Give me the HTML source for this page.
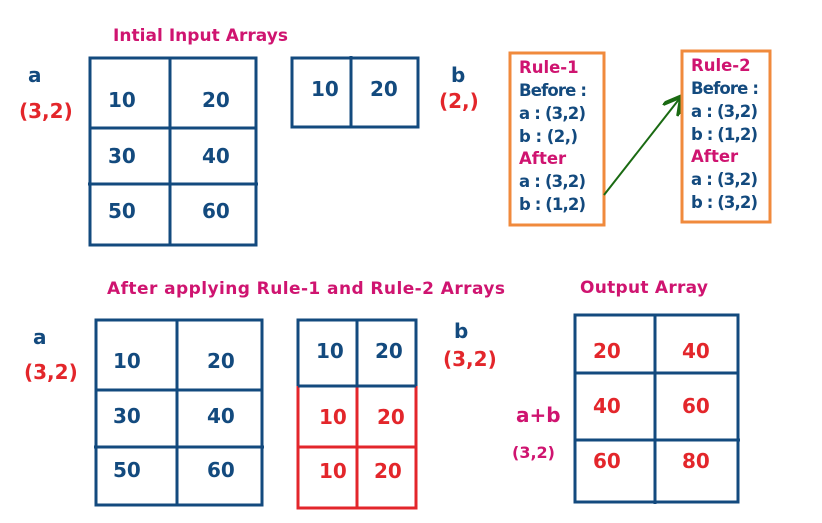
<!DOCTYPE html>
<html><head><meta charset="utf-8"><style>
html,body{margin:0;padding:0;background:#fff;width:822px;height:523px;overflow:hidden}
svg{display:block}
text{font-family:"DejaVu Sans","Liberation Sans",sans-serif;font-weight:bold}
.n{fill:#134a7e;font-size:20px}
.r{fill:#e3262b;font-size:20px}
.p{fill:#cf1470;font-size:17px}
.rl{font-size:16.5px}
</style></head><body>
<svg width="822" height="523" viewBox="0 0 822 523">
<defs><marker id="ah" markerWidth="10" markerHeight="10" refX="8" refY="5" orient="auto"><path d="M0,0 L9,5 L0,10" fill="none" stroke="#1a6a12" stroke-width="2"/></marker></defs>
<g>
<text class="p" x="113" y="41" textLength="175">Intial Input Arrays</text>
<text class="n" x="28" y="82">a</text>
<text class="r" x="19" y="118">(3,2)</text>
<g fill="none" stroke="#134a7e" stroke-width="3">
<rect x="90" y="58" width="166" height="187"/><line x1="170" y1="58" x2="170" y2="245"/><line x1="90" y1="128" x2="256" y2="128"/><line x1="88" y1="184" x2="258" y2="184"/></g>
<text class="n" x="108" y="107">10</text><text class="n" x="202" y="107">20</text>
<text class="n" x="108" y="163">30</text><text class="n" x="202" y="163">40</text>
<text class="n" x="108" y="218">50</text><text class="n" x="202" y="218">60</text>
<g fill="none" stroke="#134a7e" stroke-width="3">
<rect x="292" y="58" width="126" height="69"/><line x1="351" y1="56" x2="351" y2="127"/></g>
<text class="n" x="311" y="96">10</text><text class="n" x="370" y="96">20</text>
<text class="n" x="451" y="82">b</text>
<text class="r" x="439" y="108">(2,)</text>
</g>
<g>
<rect x="510" y="53" width="94" height="172" fill="none" stroke="#f08a3c" stroke-width="3"/>
<text class="rl" x="519" y="73" fill="#cf1470">Rule-1</text>
<text class="rl" x="519" y="96" fill="#134a7e" textLength="68">Before :</text>
<text class="rl" x="519" y="119" fill="#134a7e" textLength="67">a : (3,2)</text>
<text class="rl" x="519" y="142" fill="#134a7e" textLength="59">b : (2,)</text>
<text class="rl" x="519" y="164" fill="#cf1470">After</text>
<text class="rl" x="519" y="187" fill="#134a7e" textLength="67">a : (3,2)</text>
<text class="rl" x="519" y="210" fill="#134a7e" textLength="67">b : (1,2)</text>
</g>
<line x1="604" y1="195" x2="680" y2="98" stroke="#1a6a12" stroke-width="2" marker-end="url(#ah)"/>
<g>
<rect x="682" y="51" width="88" height="171" fill="none" stroke="#f08a3c" stroke-width="3"/>
<text class="rl" x="691" y="71" fill="#cf1470">Rule-2</text>
<text class="rl" x="691" y="94" fill="#134a7e" textLength="68">Before :</text>
<text class="rl" x="691" y="117" fill="#134a7e" textLength="67">a : (3,2)</text>
<text class="rl" x="691" y="140" fill="#134a7e" textLength="67">b : (1,2)</text>
<text class="rl" x="691" y="162" fill="#cf1470">After</text>
<text class="rl" x="691" y="185" fill="#134a7e" textLength="67">a : (3,2)</text>
<text class="rl" x="691" y="208" fill="#134a7e" textLength="67">b : (3,2)</text>
</g>
<g>
<text class="p" x="107" y="294" textLength="398">After applying Rule-1 and Rule-2 Arrays</text>
<text class="n" x="33" y="344">a</text>
<text class="r" x="24" y="379">(3,2)</text>
<g fill="none" stroke="#134a7e" stroke-width="3">
<rect x="96" y="320" width="166" height="185"/><line x1="177" y1="320" x2="177" y2="506"/><line x1="96" y1="390" x2="262" y2="390"/><line x1="94" y1="447" x2="264" y2="447"/></g>
<text class="n" x="113" y="368">10</text><text class="n" x="207" y="368">20</text>
<text class="n" x="113" y="423">30</text><text class="n" x="207" y="423">40</text>
<text class="n" x="113" y="477">50</text><text class="n" x="207" y="477">60</text>
<g fill="none" stroke-width="3">
<rect x="298" y="386" width="118" height="122" stroke="#e3262b"/><line x1="298" y1="447" x2="416" y2="447" stroke="#e3262b"/><line x1="357" y1="386" x2="357" y2="508" stroke="#e3262b"/>
<path d="M298,386 V320 H416 V386 M357,320 V386" stroke="#134a7e"/><line x1="298" y1="386" x2="416" y2="386" stroke="#134a7e"/></g>
<text class="n" x="316" y="358">10</text><text class="n" x="375" y="358">20</text>
<text class="r" x="319" y="424">10</text><text class="r" x="377" y="424">20</text>
<text class="r" x="319" y="478">10</text><text class="r" x="374" y="478">20</text>
<text class="n" x="454" y="338">b</text>
<text class="r" x="443" y="366">(3,2)</text>
</g>
<g>
<text class="p" x="580" y="293" textLength="128">Output Array</text>
<g fill="none" stroke="#134a7e" stroke-width="3">
<rect x="575" y="315" width="163" height="187"/><line x1="655" y1="315" x2="655" y2="504"/><line x1="575" y1="373" x2="738" y2="373"/><line x1="575" y1="440" x2="740" y2="440"/></g>
<text class="r" x="593" y="358">20</text><text class="r" x="682" y="358">40</text>
<text class="r" x="593" y="413">40</text><text class="r" x="682" y="413">60</text>
<text class="r" x="593" y="468">60</text><text class="r" x="682" y="468">80</text>
<text x="516" y="422" fill="#cf1470" font-size="20">a+b</text>
<text x="512" y="458" fill="#cf1470" font-size="16">(3,2)</text>
</g>
</svg>
</body></html>
